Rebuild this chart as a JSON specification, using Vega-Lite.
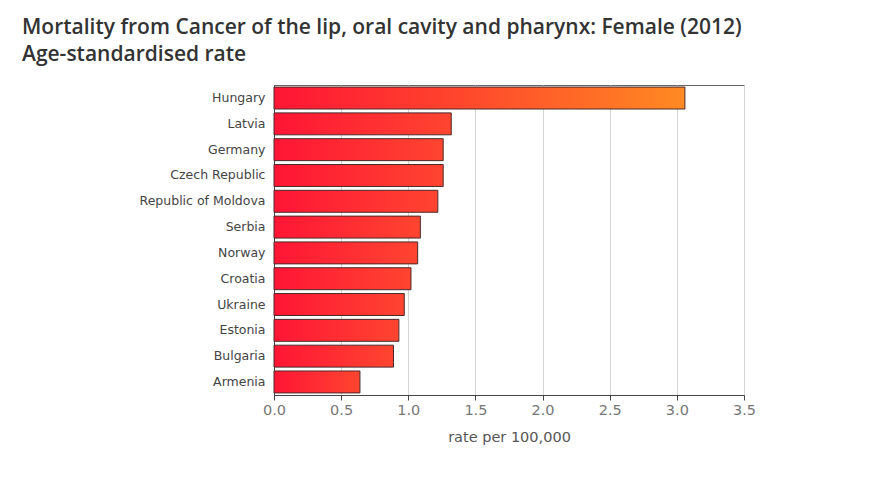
{
  "$schema": "https://vega.github.io/schema/vega-lite/v6.json",
  "autosize": "none",
  "width": 470,
  "height": 310,
  "padding": {"left": 274, "top": 85, "right": 130, "bottom": 109},
  "background": "white",
  "title": {
    "text": ["Mortality from Cancer of the lip, oral cavity and pharynx: Female (2012)", "Age-standardised rate"],
    "anchor": "start",
    "frame": "group",
    "dx": -252,
    "offset": 20,
    "font": "Open Sans",
    "fontSize": 21,
    "fontWeight": 600,
    "color": "#333333",
    "lineHeight": 27
  },
  "data": {
    "values": [
      {"country": "Hungary", "rate": 3.06},
      {"country": "Latvia", "rate": 1.32},
      {"country": "Germany", "rate": 1.26},
      {"country": "Czech Republic", "rate": 1.26},
      {"country": "Republic of Moldova", "rate": 1.22},
      {"country": "Serbia", "rate": 1.09},
      {"country": "Norway", "rate": 1.07},
      {"country": "Croatia", "rate": 1.02},
      {"country": "Ukraine", "rate": 0.97},
      {"country": "Estonia", "rate": 0.93},
      {"country": "Bulgaria", "rate": 0.89},
      {"country": "Armenia", "rate": 0.64}
    ]
  },
  "mark": {"type": "bar", "stroke": "#4a2a2a", "strokeWidth": 1},
  "encoding": {
    "y": {
      "field": "country",
      "type": "nominal",
      "sort": null,
      "scale": {"paddingInner": 0.15, "paddingOuter": 0.08},
      "axis": {
        "title": null,
        "ticks": false,
        "domain": true,
        "domainColor": "#444444",
        "labelFont": "DejaVu Sans",
        "labelFontSize": 12.5,
        "labelColor": "#444444",
        "labelPadding": 9
      }
    },
    "x": {
      "field": "rate",
      "type": "quantitative",
      "scale": {"domain": [0, 3.5], "nice": false},
      "axis": {
        "values": [0, 0.5, 1, 1.5, 2, 2.5, 3, 3.5],
        "format": ".1f",
        "labelFlush": false,
        "title": "rate per 100,000",
        "titleFont": "DejaVu Sans",
        "titleFontSize": 14.5,
        "titleFontWeight": "normal",
        "titleColor": "#555555",
        "titlePadding": 14,
        "labelFont": "DejaVu Sans",
        "labelFontSize": 14.5,
        "labelColor": "#777777",
        "labelPadding": 3,
        "tickColor": "#444444",
        "tickSize": 5,
        "domainColor": "#444444",
        "grid": true,
        "gridColor": "#d4d4d4"
      }
    },
    "fill": {
      "condition": {
        "test": "datum.country === 'Hungary'",
        "value": {
          "gradient": "linear",
          "x1": 0, "y1": 0, "x2": 1, "y2": 0,
          "stops": [
            {"offset": 0, "color": "#ff1535"},
            {"offset": 0.35, "color": "#ff3a2e"},
            {"offset": 1, "color": "#ff8a22"}
          ]
        }
      },
      "value": {
        "gradient": "linear",
        "x1": 0, "y1": 0, "x2": 1, "y2": 0,
        "stops": [
          {"offset": 0, "color": "#ff1535"},
          {"offset": 1, "color": "#ff4530"}
        ]
      }
    }
  },
  "config": {
    "view": {"stroke": "#666666", "strokeWidth": 1}
  }
}
